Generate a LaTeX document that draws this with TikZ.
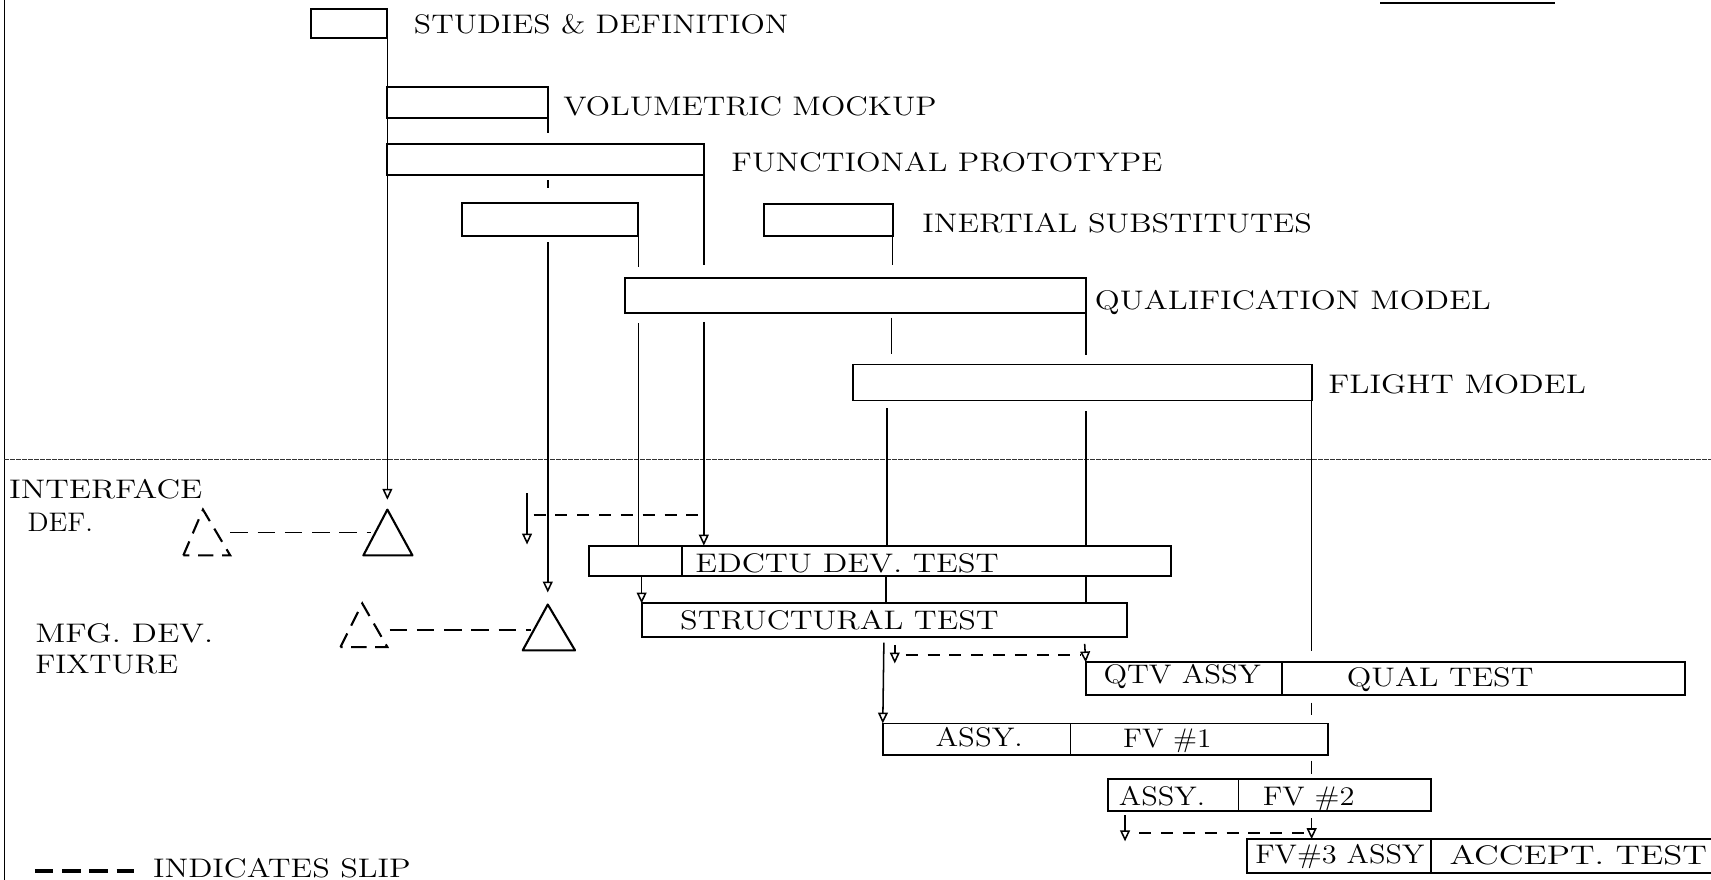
\documentclass[tikz,border=0pt]{standalone}
\usepackage{graphicx}
\usetikzlibrary{arrows.meta,fit}
\newlength\uu
\setlength\uu{0.02cm}
\newcommand\tw[2]{\resizebox{#1\uu}{\height}{#2}}
\begin{document}
\begin{tikzpicture}[x=0.02cm,y=-0.02cm,
  bar/.style={draw, line width=1pt, inner sep=0pt, outer sep=0pt},
  divider/.style={line width=1pt},
  link/.style={line width=0.8pt},
  arr/.style={line width=0.8pt, -{Triangle[open,length=0.2cm,width=0.18cm]}},
  slip/.style={line width=1pt, dash pattern=on 0.22cm off 0.18cm},
  tslip/.style={line width=1pt, dash pattern=on 0.32cm off 0.18cm},
  tri/.style={line width=1.1pt, line join=round},
  dtri/.style={line width=1.1pt, dash pattern=on 0.28cm off 0.16cm},
  lbl/.style={anchor=base west, inner sep=0pt, font=\fontsize{14}{16}\selectfont},
]
\useasboundingbox (0,0) rectangle (1568,806);
\clip (0,0) rectangle (1568,806);

% frame pieces
\draw[line width=0.8pt] (4,0) -- (4,806);
\draw[line width=1.2pt] (1265,3) -- (1425,3);
\draw[line width=0.6pt, black!80, dash pattern=on 0.08cm off 0.03cm] (4,421) -- (1568,421);

% upper bars
\node[bar, fit={(285,8)(355,35)}] (sd) {};
\node[bar, fit={(355,80)(502,108)}] (vm) {};
\node[bar, fit={(355,132)(645,160)}] (fp) {};
\node[bar, fit={(423,186)(585,216)}] (isa) {};
\node[bar, fit={(700,187)(818,216)}] (isb) {};
\node[bar, fit={(573,255)(995,287)}] (qm) {};
\node[bar, fit={(782,334)(1202,367)}] (fm) {};

% lower bars
\node[bar, fit={(540,500)(1073,528)}] (ed) {};
\draw[divider] (625,0 |- ed.north) -- (625,0 |- ed.south);
\node[bar, fit={(588,553)(1033,584)}] (st) {};
\node[bar, fit={(995,607)(1544,637)}] (qt) {};
\draw[divider] (1175,0 |- qt.north) -- (1175,0 |- qt.south);
\node[bar, fit={(809,663)(1217,692)}] (fa) {};
\draw[divider] (981,0 |- fa.north) -- (981,0 |- fa.south);
\node[bar, fit={(1015,714)(1311,743)}] (fb) {};
\draw[divider] (1135,0 |- fb.north) -- (1135,0 |- fb.south);
\node[bar, fit={(1143,769)(1600,800)}] (fc) {};
\draw[divider] (1311,0 |- fc.north) -- (1311,0 |- fc.south);

% triangles
\coordinate (ifa) at (355,467);
\coordinate (ifd) at (186,467);
\coordinate (mfa) at (502,554);
\coordinate (mfd) at (332,553);
\draw[tri] (333,509) -- (ifa) -- (378,509) -- cycle;
\draw[dtri] (168,509) -- (ifd) -- (211,509) -- cycle;
\draw[tslip] (211,488) -- (340,488);
\draw[tri] (479,596) -- (mfa) -- (527,596) -- cycle;
\draw[dtri] (312,593) -- (mfd) -- (355,593) -- cycle;
\draw[tslip] (357,577) -- (487,577);

% studies line to interface definition
\draw[arr, shorten >=0.18cm] (sd.north east) -- (ifa);
% volumetric mockup line to mfg fixture
\draw[link] (vm.south east) -- ++(0,14);
\draw[link] (502,165) -- (502,172);
\draw[arr, shorten >=0.22cm] (502,222) -- (mfa);
% functional prototype line
\draw[link] (fp.north east) -- (645,243);
\draw[arr] (645,295) -- (645,0 |- ed.north);
% inertial substitutes (first) line
\draw[link] (isa.south east) -- (585,245);
\draw[link] (585,296) -- (585,0 |- ed.north);
\draw[arr] (588,0 |- ed.south) -- (st.north west);
% inertial substitutes (second) line
\draw[link] (isb.south east) -- (818,243);
\draw[link] (817,291) -- (817,324);
\draw[link] (813,374) -- (813,0 |- ed.north);
\draw[link] (812,0 |- ed.south) -- (812,0 |- st.north);
\draw[arr] (810,589) -- (fa.north west);
% qualification model line
\draw[link] (qm.south east) -- (995,325);
\draw[link] (995,377) -- (995,0 |- ed.north);
\draw[link] (995,0 |- ed.south) -- (995,0 |- st.north);
% flight model line
\draw[link] (fm.south east) -- (1202,597);
\draw[link] (1202,644) -- (1202,655);
\draw[link] (1202,697) -- (1202,709);
\draw[arr] (1202,750) -- (1202,0 |- fc.north);

% slips
\draw[arr] (483,452) -- (483,499);
\draw[slip] (489,472) -- (645,472);
\draw[arr] (820,591) -- (820,608);
\draw[slip] (830,600) -- (990,600);
\draw[arr] (994,590) -- (qt.north west);
\draw[arr] (1031,747) -- (1031,771);
\draw[slip] (1044,763) -- (1198,763);
\draw[line width=1.8pt, dash pattern=on 0.34cm off 0.16cm] (32,798) -- (123,798);

% labels
\node[lbl] (t-sd) at (379,30.5) {\tw{343}{STUDIES \& DEFINITION}};
\node[lbl] (t-vm) at (516,105.5) {\tw{342}{VOLUMETRIC MOCKUP}};
\node[lbl] (t-fp) at (670,157.5) {\tw{395}{FUNCTIONAL PROTOTYPE}};
\node[lbl] (t-is) at (845,213.5) {\tw{357}{INERTIAL SUBSTITUTES}};
\node[lbl] (t-qm) at (1003,284) {\tw{363}{QUALIFICATION MODEL}};
\node[lbl] (t-fm) at (1217,361) {\tw{236}{FLIGHT MODEL}};
\node[lbl] (t-if1) at (8,457) {\tw{177}{INTERFACE}};
\node[lbl] (t-if2) at (25,487) {\tw{60}{DEF.}};
\node[lbl] (t-mf1) at (32,589) {\tw{163}{MFG. DEV.}};
\node[lbl] (t-mf2) at (32,617) {\tw{131}{FIXTURE}};
\node[lbl] (t-ed) at (637,525) {\tw{278}{EDCTU DEV. TEST}};
\node[lbl] (t-st) at (623,576.5) {\tw{292}{STRUCTURAL TEST}};
\node[lbl] (t-qtv) at (1011,626) {\tw{144}{QTV ASSY}};
\node[lbl] (t-qt) at (1234,629.5) {\tw{171}{QUAL TEST}};
\node[lbl] (t-a1) at (857,684.5) {\tw{80}{ASSY.}};
\node[lbl] (t-f1) at (1029,685) {\tw{81}{FV \#1}};
\node[lbl] (t-a2) at (1025,738) {\tw{79}{ASSY.}};
\node[lbl] (t-f2) at (1157,738) {\tw{84}{FV \#2}};
\node[lbl] (t-f3) at (1150,791) {\tw{155}{FV\#3 ASSY}};
\node[lbl] (t-at) at (1328,792) {\tw{236}{ACCEPT. TEST}};
\node[lbl] (t-slip) at (140,804) {\tw{236}{INDICATES SLIP}};
\end{tikzpicture}
\end{document}
